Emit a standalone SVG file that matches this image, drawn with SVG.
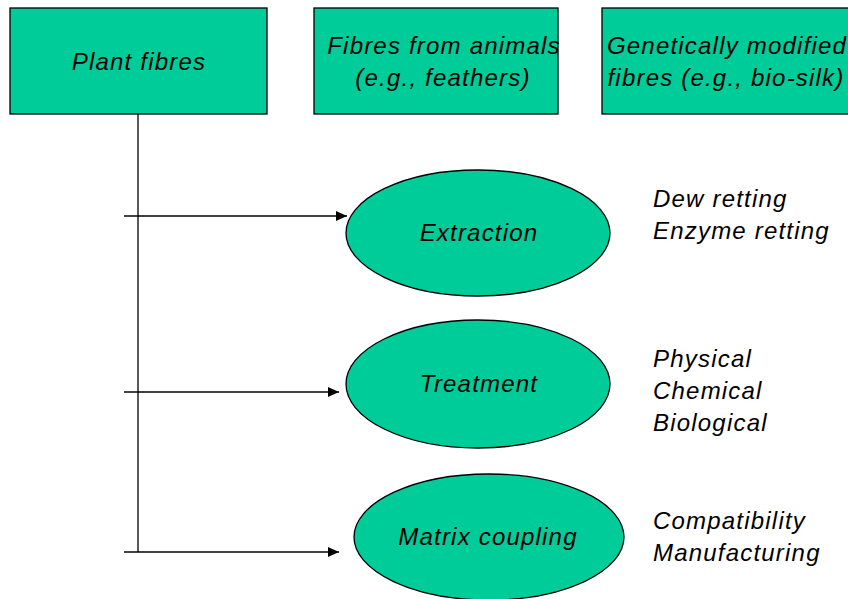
<svg xmlns="http://www.w3.org/2000/svg" width="848" height="599" viewBox="0 0 848 599">
<defs>
<style>
.box{fill:#00cc99;stroke:#000;stroke-width:1.3}
.t{font-family:"Liberation Sans",Arial,sans-serif;font-style:italic;font-size:24px;letter-spacing:1.2px;fill:#000}
.c{text-anchor:middle}
.ln{stroke:#000;stroke-width:1.3;fill:none}
</style>
<marker id="ah" markerWidth="11" markerHeight="10" refX="11" refY="5" orient="auto" markerUnits="userSpaceOnUse">
<path d="M0,0 L11,5 L0,10 Z" fill="#000"/>
</marker>
</defs>
<rect width="848" height="599" fill="#fff"/>
<g id="connectors">
<line class="ln" x1="138" y1="114" x2="138" y2="552"/>
<line class="ln" x1="124" y1="216" x2="347" y2="216" marker-end="url(#ah)"/>
<line class="ln" x1="124" y1="392" x2="339" y2="392" marker-end="url(#ah)"/>
<line class="ln" x1="124" y1="552" x2="339" y2="552" marker-end="url(#ah)"/>
</g>
<g id="plant-fibres">
<rect class="box" x="10" y="8" width="257" height="106"/>
<text class="t c" x="139" y="70">Plant fibres</text>
</g>
<g id="animal-fibres">
<rect class="box" x="314" y="8" width="244" height="106"/>
<text class="t c" x="444" y="54">Fibres from animals</text>
<text class="t c" x="443" y="86">(e.g., feathers)</text>
</g>
<g id="gm-fibres">
<rect class="box" x="602" y="8" width="250" height="106"/>
<text class="t c" x="727" y="54">Genetically modified</text>
<text class="t c" x="726" y="86">fibres (e.g., bio-silk)</text>
</g>
<g id="extraction">
<ellipse class="box" cx="478" cy="233" rx="132" ry="63"/>
<text class="t c" x="479" y="241">Extraction</text>
</g>
<g id="treatment">
<ellipse class="box" cx="478" cy="384" rx="132" ry="64"/>
<text class="t c" x="479" y="392">Treatment</text>
</g>
<g id="matrix-coupling">
<ellipse class="box" cx="489" cy="537" rx="135" ry="63"/>
<text class="t c" x="488" y="545">Matrix coupling</text>
</g>
<g id="extraction-notes">
<text class="t" x="653" y="207">Dew retting</text>
<text class="t" x="653" y="239">Enzyme retting</text>
</g>
<g id="treatment-notes">
<text class="t" x="653" y="367">Physical</text>
<text class="t" x="653" y="399">Chemical</text>
<text class="t" x="653" y="431">Biological</text>
</g>
<g id="matrix-notes">
<text class="t" x="653" y="529">Compatibility</text>
<text class="t" x="653" y="561">Manufacturing</text>
</g>
</svg>
